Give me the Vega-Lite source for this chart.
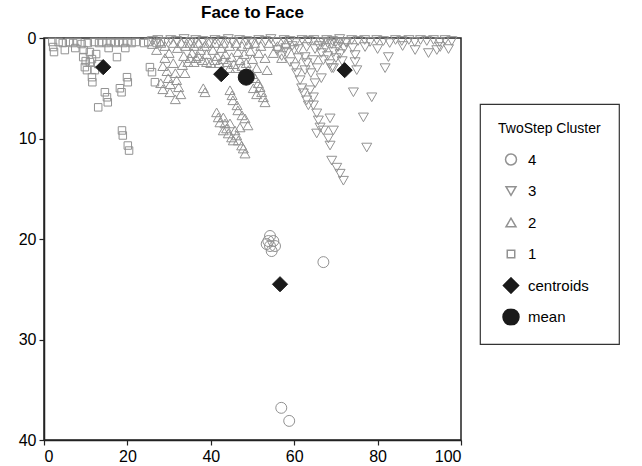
{
  "$schema": "https://vega.github.io/schema/vega-lite/v6.json",
  "width": 417,
  "height": 402,
  "autosize": {"type": "none"},
  "padding": {"left": 44, "top": 38, "right": 181, "bottom": 26},
  "background": "white",
  "title": {"text": "Face to Face", "fontSize": 17, "fontWeight": "bold", "font": "Liberation Sans", "anchor": "middle", "frame": "group", "offset": 8, "color": "black"},
  "config": {
    "view": {"stroke": "#222", "strokeWidth": 1.5},
    "font": "Liberation Sans",
    "axis": {"grid": false, "domainColor": "#222", "domainWidth": 1.5, "tickColor": "#222", "tickWidth": 1.2, "tickSize": 5, "labelFontSize": 16, "labelColor": "black", "labelFont": "Liberation Sans", "labelPadding": 3},
    "legend": {"orient": "none", "legendX": 436, "legendY": 66, "strokeColor": "#333", "strokeWidth": 1.2, "padding": 18, "titleFontSize": 14, "titleFontWeight": "normal", "titleColor": "black", "titleFont": "Liberation Sans", "labelFontSize": 15, "labelColor": "black", "labelFont": "Liberation Sans", "rowPadding": 14.5, "clipHeight": 17, "titlePadding": 15, "labelOffset": 8, "symbolOffset": 4}
  },
  "datasets": {
    "pts": [
      {"x":2,"y":0.4,"g":"1"},{"x":2.2,"y":0.9,"g":"1"},{"x":2.4,"y":1.4,"g":"1"},{"x":3.5,"y":0.4,"g":"1"},{"x":4.5,"y":0.5,"g":"1"},{"x":5,"y":1.2,"g":"1"},{"x":6,"y":0.4,"g":"1"},{"x":7,"y":0.5,"g":"1"},{"x":7.5,"y":1,"g":"1"},{"x":8,"y":0.4,"g":"1"},{"x":9,"y":0.6,"g":"1"},{"x":9.4,"y":1.9,"g":"1"},{"x":9.5,"y":1.2,"g":"1"},{"x":9.8,"y":2.9,"g":"1"},{"x":10,"y":2.3,"g":"1"},{"x":10.3,"y":3.2,"g":"1"},{"x":10.5,"y":0.5,"g":"1"},{"x":11,"y":1.4,"g":"1"},{"x":11,"y":2.4,"g":"1"},{"x":11.5,"y":2.1,"g":"1"},{"x":12,"y":0.4,"g":"1"},{"x":12.5,"y":1.6,"g":"1"},{"x":13,"y":2.6,"g":"1"},{"x":13.2,"y":0.5,"g":"1"},{"x":14,"y":0.4,"g":"1"},{"x":15,"y":0.5,"g":"1"},{"x":15.5,"y":1,"g":"1"},{"x":16,"y":0.4,"g":"1"},{"x":17,"y":0.5,"g":"1"},{"x":17.5,"y":1.9,"g":"1"},{"x":18,"y":0.4,"g":"1"},{"x":19,"y":0.5,"g":"1"},{"x":19.5,"y":1,"g":"1"},{"x":20,"y":0.4,"g":"1"},{"x":21,"y":0.5,"g":"1"},{"x":22,"y":0.4,"g":"1"},{"x":24,"y":0.5,"g":"1"},{"x":25,"y":0.4,"g":"1"},{"x":27,"y":0.5,"g":"1"},{"x":28,"y":0.4,"g":"1"},{"x":11.5,"y":3.9,"g":"1"},{"x":11.6,"y":4.4,"g":"1"},{"x":12.2,"y":3.2,"g":"1"},{"x":13,"y":6.9,"g":"1"},{"x":14.6,"y":5.4,"g":"1"},{"x":15.1,"y":5.9,"g":"1"},{"x":15.3,"y":6.4,"g":"1"},{"x":18.2,"y":5,"g":"1"},{"x":18.6,"y":5.4,"g":"1"},{"x":19.9,"y":3.9,"g":"1"},{"x":20.1,"y":4.4,"g":"1"},{"x":18.7,"y":9.2,"g":"1"},{"x":18.9,"y":9.7,"g":"1"},{"x":20.1,"y":10.7,"g":"1"},{"x":20.4,"y":11.2,"g":"1"},{"x":25.4,"y":2.9,"g":"1"},{"x":25.9,"y":3.4,"g":"1"},{"x":26.6,"y":4.4,"g":"1"},
      {"x":28.5,"y":2.8,"g":"2"},{"x":28,"y":4.5,"g":"2"},{"x":28.5,"y":5.1,"g":"2"},{"x":29.5,"y":3.3,"g":"2"},{"x":29.8,"y":4,"g":"2"},{"x":30.3,"y":4.6,"g":"2"},{"x":30.2,"y":5.4,"g":"2"},{"x":31,"y":2.5,"g":"2"},{"x":31.5,"y":3.5,"g":"2"},{"x":31.8,"y":4.2,"g":"2"},{"x":32.3,"y":4.9,"g":"2"},{"x":32.8,"y":5.6,"g":"2"},{"x":31.5,"y":6.1,"g":"2"},{"x":33.2,"y":2.7,"g":"2"},{"x":29,"y":2,"g":"2"},{"x":33.8,"y":3.5,"g":"2"},{"x":38.2,"y":5,"g":"2"},{"x":38.6,"y":5.4,"g":"2"},
      {"x":26,"y":0.6,"g":"2"},{"x":27,"y":1.2,"g":"2"},{"x":28,"y":0.5,"g":"2"},{"x":29,"y":0.8,"g":"2"},{"x":30,"y":1.5,"g":"2"},{"x":31,"y":0.5,"g":"2"},{"x":32,"y":1,"g":"2"},{"x":33,"y":0.5,"g":"2"},{"x":33.5,"y":1.8,"g":"2"},{"x":34,"y":0.8,"g":"2"},{"x":34.5,"y":2.4,"g":"2"},{"x":35,"y":0.5,"g":"2"},{"x":35.5,"y":1.5,"g":"2"},{"x":36,"y":0.8,"g":"2"},{"x":36.5,"y":2,"g":"2"},{"x":37,"y":0.5,"g":"2"},{"x":37.5,"y":1.2,"g":"2"},{"x":38,"y":2.2,"g":"2"},{"x":38.5,"y":0.8,"g":"2"},{"x":39,"y":1.6,"g":"2"},{"x":39.5,"y":0.5,"g":"2"},{"x":40,"y":2.5,"g":"2"},{"x":40.5,"y":1.2,"g":"2"},{"x":41,"y":0.5,"g":"2"},{"x":41.5,"y":1.8,"g":"2"},{"x":42,"y":2.5,"g":"2"},{"x":42.5,"y":1,"g":"2"},{"x":43,"y":0.5,"g":"2"},{"x":43.5,"y":1.6,"g":"2"},{"x":44,"y":2.4,"g":"2"},{"x":44.5,"y":0.8,"g":"2"},{"x":45,"y":1.9,"g":"2"},{"x":45.5,"y":2.6,"g":"2"},{"x":46,"y":0.5,"g":"2"},{"x":46.5,"y":1.4,"g":"2"},{"x":47,"y":2.2,"g":"2"},{"x":47.5,"y":0.8,"g":"2"},{"x":48,"y":1.6,"g":"2"},{"x":48.5,"y":2.5,"g":"2"},{"x":49,"y":0.6,"g":"2"},{"x":49.5,"y":1.3,"g":"2"},{"x":50,"y":2.1,"g":"2"},{"x":50.5,"y":0.5,"g":"2"},{"x":51,"y":3,"g":"2"},{"x":51.5,"y":1.5,"g":"2"},{"x":52,"y":0.8,"g":"2"},{"x":53,"y":2,"g":"2"},{"x":53.5,"y":3.2,"g":"2"},{"x":54,"y":0.5,"g":"2"},{"x":55,"y":1.5,"g":"2"},{"x":56,"y":0.8,"g":"2"},{"x":57,"y":2,"g":"2"},{"x":58,"y":0.5,"g":"2"},
      {"x":35,"y":2,"g":"2"},{"x":36,"y":2.4,"g":"2"},{"x":37,"y":1.8,"g":"2"},{"x":39,"y":2.4,"g":"2"},{"x":41,"y":2.2,"g":"2"},{"x":43,"y":2.1,"g":"2"},{"x":44.5,"y":3,"g":"2"},{"x":46,"y":3,"g":"2"},{"x":47.5,"y":2.8,"g":"2"},{"x":49,"y":3.2,"g":"2"},{"x":50,"y":3.6,"g":"2"},
      {"x":50.6,"y":4,"g":"2"},{"x":51.4,"y":4.5,"g":"2"},{"x":51.8,"y":4.9,"g":"2"},{"x":52.2,"y":5.4,"g":"2"},{"x":52.6,"y":5.9,"g":"2"},{"x":53,"y":6.4,"g":"2"},{"x":50.2,"y":5,"g":"2"},{"x":51,"y":5.6,"g":"2"},
      {"x":44.6,"y":5.2,"g":"2"},{"x":45.1,"y":5.7,"g":"2"},{"x":45.3,"y":6.2,"g":"2"},{"x":46.3,"y":6.7,"g":"2"},{"x":46.5,"y":7.2,"g":"2"},{"x":47.5,"y":7.7,"g":"2"},{"x":48.2,"y":8,"g":"2"},{"x":48.9,"y":8.7,"g":"2"},
      {"x":41.4,"y":7.4,"g":"2"},{"x":41.8,"y":7.9,"g":"2"},{"x":42.2,"y":8.4,"g":"2"},{"x":43,"y":7.9,"g":"2"},{"x":43.4,"y":8.5,"g":"2"},{"x":43.8,"y":9,"g":"2"},{"x":43,"y":9.2,"g":"2"},{"x":44.2,"y":9.5,"g":"2"},{"x":45,"y":9.9,"g":"2"},{"x":45.8,"y":9.2,"g":"2"},{"x":46.2,"y":9.7,"g":"2"},{"x":46.6,"y":10.2,"g":"2"},{"x":47.4,"y":10.7,"g":"2"},{"x":47.8,"y":11,"g":"2"},{"x":48.2,"y":11.5,"g":"2"},{"x":47,"y":8.9,"g":"2"},{"x":44.6,"y":8.5,"g":"2"},{"x":45.4,"y":10.2,"g":"2"},
      {"x":26,"y":0.3,"g":"3"},{"x":27.3,"y":0.2,"g":"3"},{"x":29.1,"y":0.4,"g":"3"},{"x":30.4,"y":0.2,"g":"3"},{"x":31.8,"y":0.3,"g":"3"},{"x":33.6,"y":0.1,"g":"3"},{"x":35.2,"y":0.4,"g":"3"},{"x":36.4,"y":0.2,"g":"3"},{"x":38.1,"y":0.3,"g":"3"},{"x":39.7,"y":0.5,"g":"3"},{"x":41,"y":0.2,"g":"3"},{"x":42.6,"y":0.3,"g":"3"},{"x":44.2,"y":0.1,"g":"3"},{"x":45.3,"y":0.4,"g":"3"},{"x":46.9,"y":0.2,"g":"3"},{"x":48.6,"y":0.3,"g":"3"},{"x":49.8,"y":0.5,"g":"3"},{"x":51.5,"y":0.2,"g":"3"},{"x":53.1,"y":0.3,"g":"3"},{"x":54.4,"y":0.1,"g":"3"},{"x":55.8,"y":0.4,"g":"3"},{"x":57.6,"y":0.2,"g":"3"},{"x":59,"y":0.3,"g":"3"},{"x":60.3,"y":0.5,"g":"3"},{"x":61.9,"y":0.2,"g":"3"},{"x":63.4,"y":0.3,"g":"3"},{"x":64.7,"y":0.2,"g":"3"},{"x":66.3,"y":0.4,"g":"3"},{"x":67.8,"y":0.2,"g":"3"},{"x":69.2,"y":0.3,"g":"3"},{"x":70.9,"y":0.1,"g":"3"},{"x":72.4,"y":0.4,"g":"3"},{"x":73.8,"y":0.2,"g":"3"},{"x":75.3,"y":0.3,"g":"3"},{"x":76.9,"y":0.2,"g":"3"},{"x":78.2,"y":0.4,"g":"3"},{"x":79.8,"y":0.2,"g":"3"},{"x":81.4,"y":0.3,"g":"3"},{"x":82.9,"y":0.5,"g":"3"},{"x":84.3,"y":0.2,"g":"3"},{"x":85.8,"y":0.3,"g":"3"},{"x":87.5,"y":0.2,"g":"3"},{"x":88.9,"y":0.4,"g":"3"},{"x":90.3,"y":0.2,"g":"3"},{"x":91.8,"y":0.3,"g":"3"},{"x":93.4,"y":0.2,"g":"3"},{"x":94.9,"y":0.4,"g":"3"},{"x":96.2,"y":0.2,"g":"3"},{"x":97.8,"y":0.3,"g":"3"},
      {"x":58,"y":1,"g":"3"},{"x":60,"y":1.2,"g":"3"},{"x":63,"y":0.9,"g":"3"},{"x":65,"y":1.1,"g":"3"},{"x":74,"y":1,"g":"3"},{"x":77,"y":0.9,"g":"3"},{"x":80,"y":1.1,"g":"3"},{"x":86,"y":0.8,"g":"3"},{"x":89,"y":1.2,"g":"3"},{"x":95,"y":0.9,"g":"3"},{"x":97,"y":1.1,"g":"3"},
      {"x":66,"y":0.8,"g":"3"},{"x":66.5,"y":1.5,"g":"3"},{"x":67,"y":2.2,"g":"3"},{"x":67.5,"y":1,"g":"3"},{"x":68,"y":1.8,"g":"3"},{"x":68.5,"y":2.6,"g":"3"},{"x":69,"y":0.6,"g":"3"},{"x":69.5,"y":1.4,"g":"3"},{"x":70,"y":2,"g":"3"},{"x":70.5,"y":0.9,"g":"3"},{"x":71,"y":1.6,"g":"3"},{"x":71.5,"y":2.3,"g":"3"},{"x":72,"y":1,"g":"3"},{"x":72.5,"y":0.5,"g":"3"},{"x":67,"y":0.4,"g":"3"},{"x":68,"y":0.5,"g":"3"},{"x":70,"y":0.4,"g":"3"},{"x":71,"y":0.5,"g":"3"},{"x":69,"y":3,"g":"3"},{"x":69.4,"y":3,"g":"3"},
      {"x":74.6,"y":1.7,"g":"3"},{"x":74.6,"y":2.4,"g":"3"},{"x":75,"y":3.2,"g":"3"},{"x":82.6,"y":1.9,"g":"3"},{"x":81.8,"y":3,"g":"3"},{"x":92.2,"y":1.5,"g":"3"},{"x":94.2,"y":1.2,"g":"3"},{"x":74.2,"y":5.4,"g":"3"},{"x":78.6,"y":5.9,"g":"3"},{"x":76.6,"y":7.9,"g":"3"},{"x":77.4,"y":10.9,"g":"3"},
      {"x":58.2,"y":1.5,"g":"3"},{"x":59,"y":2.4,"g":"3"},{"x":60.2,"y":2.9,"g":"3"},{"x":60.6,"y":3.5,"g":"3"},{"x":61.4,"y":4.2,"g":"3"},{"x":61.8,"y":5,"g":"3"},{"x":62.2,"y":5.5,"g":"3"},{"x":63,"y":6.2,"g":"3"},{"x":63.4,"y":6.7,"g":"3"},{"x":62.6,"y":1.9,"g":"3"},{"x":62.6,"y":3.2,"g":"3"},{"x":63.8,"y":5.2,"g":"3"},{"x":64.6,"y":5.9,"g":"3"},{"x":64.6,"y":6.7,"g":"3"},{"x":65.4,"y":7.5,"g":"3"},{"x":65.8,"y":8.2,"g":"3"},{"x":66.2,"y":8.9,"g":"3"},{"x":65.4,"y":9.5,"g":"3"},{"x":67,"y":9.2,"g":"3"},{"x":68.6,"y":8,"g":"3"},{"x":69.4,"y":9.2,"g":"3"},{"x":68.2,"y":10,"g":"3"},{"x":68.6,"y":10.7,"g":"3"},{"x":69,"y":12.2,"g":"3"},{"x":70.2,"y":12.9,"g":"3"},{"x":71,"y":13.5,"g":"3"},{"x":71.8,"y":14.2,"g":"3"},{"x":64,"y":3.5,"g":"3"},{"x":65,"y":4.5,"g":"3"},{"x":63,"y":2.5,"g":"3"},{"x":61,"y":2,"g":"3"},{"x":64.5,"y":2.2,"g":"3"},{"x":65.5,"y":3,"g":"3"},{"x":66.5,"y":4,"g":"3"},{"x":56,"y":1.2,"g":"3"},{"x":57,"y":1.8,"g":"3"},{"x":59.5,"y":0.8,"g":"3"},{"x":61,"y":1.1,"g":"3"},
      {"x":54.2,"y":19.7,"g":"4"},{"x":53.8,"y":20.2,"g":"4"},{"x":55,"y":20.2,"g":"4"},{"x":54.2,"y":20.7,"g":"4"},{"x":55.4,"y":20.7,"g":"4"},{"x":54.6,"y":21.2,"g":"4"},{"x":53.4,"y":20.5,"g":"4"},{"x":67,"y":22.3,"g":"4"},{"x":56.9,"y":36.8,"g":"4"},{"x":58.8,"y":38.1,"g":"4"},
      {"x":14.2,"y":2.9,"g":"centroids"},{"x":42.5,"y":3.6,"g":"centroids"},{"x":72.1,"y":3.2,"g":"centroids"},{"x":56.6,"y":24.5,"g":"centroids"},
      {"x":48.5,"y":3.9,"g":"mean"}
    ]
  },
  "data": {"name": "pts"},
  "mark": {"type": "point", "strokeWidth": 1, "opacity": 1},
  "encoding": {
    "x": {"field": "x", "type": "quantitative", "title": null, "scale": {"domain": [0, 100], "nice": false, "zero": false}, "axis": {"values": [0, 20, 40, 60, 80, 100]}},
    "y": {"field": "y", "type": "quantitative", "title": null, "scale": {"domain": [0, 40], "reverse": true, "nice": false}, "axis": {"values": [0, 10, 20, 30, 40]}},
    "shape": {"field": "g", "type": "nominal", "title": "TwoStep Cluster", "scale": {"domain": ["4", "3", "2", "1", "centroids", "mean"], "range": ["circle", "triangle-down", "triangle-up", "square", "diamond", "circle"]}, "legend": {"labelExpr": "datum.label == 'centroids' ? 'centroids\u00a0\u00a0\u00a0\u00a0\u00a0\u00a0\u00a0' : datum.label"}},
    "fill": {"field": "g", "type": "nominal", "title": "TwoStep Cluster", "scale": {"domain": ["4", "3", "2", "1", "centroids", "mean"], "range": ["transparent", "transparent", "transparent", "transparent", "#1a1a1a", "#1a1a1a"]}},
    "stroke": {"field": "g", "type": "nominal", "title": "TwoStep Cluster", "scale": {"domain": ["4", "3", "2", "1", "centroids", "mean"], "range": ["#929292", "#929292", "#929292", "#929292", "#1a1a1a", "#1a1a1a"]}},
    "size": {"field": "g", "type": "nominal", "title": "TwoStep Cluster", "scale": {"type": "ordinal", "domain": ["4", "3", "2", "1", "centroids", "mean"], "range": [120, 100, 100, 56, 230, 256]}}
  }
}
